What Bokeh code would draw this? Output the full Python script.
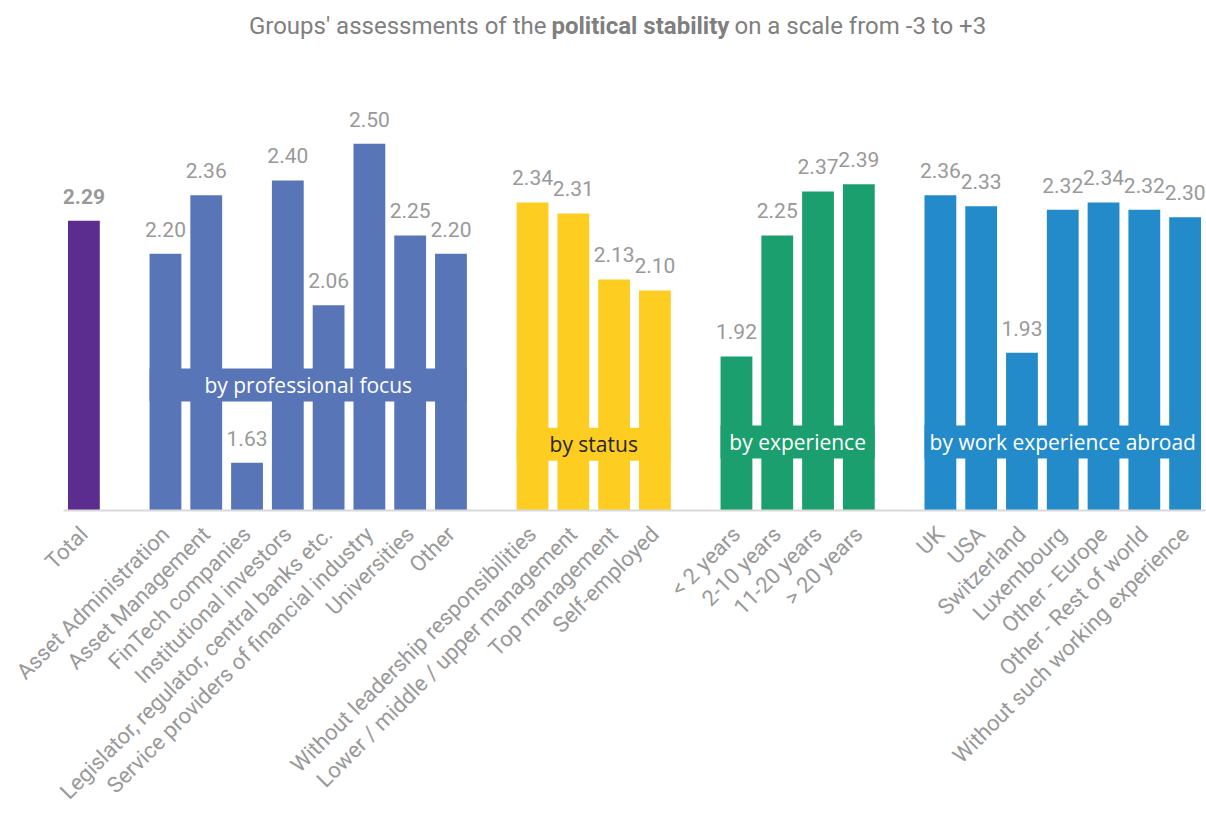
from bokeh.plotting import figure
from bokeh.models import ColumnDataSource, LabelSet, Label, FixedTicker, Range1d
from bokeh.core.properties import value
from bokeh.embed import file_html
from bokeh.resources import INLINE

# ---------------- data ----------------
total_cats = ["Total"]
total_vals = [2.29]

prof_cats = ["Asset Administration", "Asset Management", "FinTech companies",
             "Institutional investors", "Legislator, regulator, central banks etc.",
             "Service providers of financial industry", "Universities", "Other"]
prof_vals = [2.20, 2.36, 1.63, 2.40, 2.06, 2.50, 2.25, 2.20]

status_cats = ["Without leadership responsibilities", "Lower / middle / upper management",
               "Top management", "Self-employed"]
status_vals = [2.34, 2.31, 2.13, 2.10]

exp_cats = ["< 2 years", "2-10 years", "11-20 years", "> 20 years"]
exp_vals = [1.92, 2.25, 2.37, 2.39]

abroad_cats = ["UK", "USA", "Switzerland", "Luxembourg", "Other - Europe",
               "Other - Rest of world", "Without such working experience"]
abroad_vals = [2.36, 2.33, 1.93, 2.32, 2.34, 2.32, 2.30]

group_names = ["by professional focus", "by status", "by experience", "by work experience abroad"]

# ---------------- styles / layout ----------------
colors = ["#5B2D8E", "#5875B8", "#FDCE21", "#1C9F6E", "#248BCB"]
group_text_colors = ["#FFFFFF", "#262626", "#FFFFFF", "#FFFFFF"]
group_label_y = [1.842, 1.681, 1.687, 1.687]
box_half = 0.045
BAR_W = 0.78

LABEL_GRAY = "#999999"
FONT = "Roboto"

groups = [(total_cats, total_vals), (prof_cats, prof_vals), (status_cats, status_vals),
          (exp_cats, exp_vals), (abroad_cats, abroad_vals)]

xs, ys, cols, labels = [], [], [], []
pos = 0
group_positions = []
for gi, (cats, vals) in enumerate(groups):
    gp = []
    for c, v in zip(cats, vals):
        xs.append(pos)
        ys.append(v)
        cols.append(colors[gi])
        labels.append(c)
        gp.append(pos)
        pos += 1
    group_positions.append(gp)
    pos += 1  # empty slot between groups
n_slots = pos - 1

BASE = 1.5
PX_PER_UNIT = 366.7
FRAME_H = 510
y_top = BASE + FRAME_H / PX_PER_UNIT

p = figure(width=1206, height=815, output_backend="svg", toolbar_location=None,
           x_range=Range1d(-0.5, n_slots - 0.5), y_range=Range1d(BASE, y_top),
           y_axis_location=None, min_border_left=63, min_border_right=1,
           min_border_top=0, min_border_bottom=815 - FRAME_H)
p.outline_line_color = None
p.xgrid.visible = False
p.ygrid.visible = False
p.background_fill_color = "white"
p.border_fill_color = "white"

# group boxes behind label text
for gi in range(1, 5):
    gp = group_positions[gi]
    p.quad(left=[gp[0] - BAR_W / 2], right=[gp[-1] + BAR_W / 2],
           bottom=[group_label_y[gi - 1] - box_half], top=[group_label_y[gi - 1] + box_half],
           fill_color=colors[gi], line_color=None)

src = ColumnDataSource(dict(x=xs, top=ys, color=cols))
p.vbar(x="x", top="top", bottom=BASE, width=BAR_W, fill_color="color", line_color=None, source=src)

# value labels
tot_src = ColumnDataSource(dict(x=xs[:1], top=ys[:1], txt=["%.2f" % v for v in ys[:1]]))
rest_src = ColumnDataSource(dict(x=xs[1:], top=ys[1:], txt=["%.2f" % v for v in ys[1:]]))
p.add_layout(LabelSet(x="x", y="top", text="txt", source=rest_src, text_align="center",
                      text_baseline="alphabetic", y_offset=17, text_font=value(FONT),
                      text_font_size=value("21px"), text_color=LABEL_GRAY))
p.add_layout(LabelSet(x="x", y="top", text="txt", source=tot_src, text_align="center",
                      text_baseline="alphabetic", y_offset=17, text_font=value(FONT),
                      text_font_size=value("21px"), text_font_style="bold",
                      text_color=LABEL_GRAY))

# group labels
for gi in range(1, 5):
    gp = group_positions[gi]
    p.add_layout(Label(x=(gp[0] + gp[-1]) / 2, y=group_label_y[gi - 1], text=group_names[gi - 1],
                       text_align="center", text_baseline="middle", text_font="Open Sans",
                       text_font_size="21px", text_color=group_text_colors[gi - 1]))

# title (three parts: normal / bold / normal)
title_y = BASE + (FRAME_H - 25) / PX_PER_UNIT
title_x = (640 - 63) / 40.79 - 0.5
TITLE_GRAY = "#7F7F7F"
p.add_layout(Label(x=title_x, y=title_y, text="political stability", text_align="center",
                   text_baseline="middle", text_font=FONT, text_font_size="24px",
                   text_font_style="bold", text_color=TITLE_GRAY))
p.add_layout(Label(x=title_x, y=title_y, x_offset=-94, text="Groups' assessments of the",
                   text_align="right", text_baseline="middle", text_font=FONT,
                   text_font_size="24px", text_color=TITLE_GRAY))
p.add_layout(Label(x=title_x, y=title_y, x_offset=94, text="on a scale from -3 to +3",
                   text_align="left", text_baseline="middle", text_font=FONT,
                   text_font_size="24px", text_color=TITLE_GRAY))

# x axis
ax = p.xaxis[0]
ax.ticker = FixedTicker(ticks=xs)
ax.major_label_overrides = {x: l for x, l in zip(xs, labels)}
ax.major_label_orientation = 3.14159265 / 4
ax.major_label_text_font = FONT
ax.major_label_text_font_size = "22px"
ax.major_label_text_color = LABEL_GRAY
ax.major_label_standoff = 14
ax.major_tick_line_color = None
ax.minor_tick_line_color = None
ax.axis_line_color = "#D9D9D9"
ax.axis_line_width = 2

open("out.html", "w").write(file_html(p, INLINE))
